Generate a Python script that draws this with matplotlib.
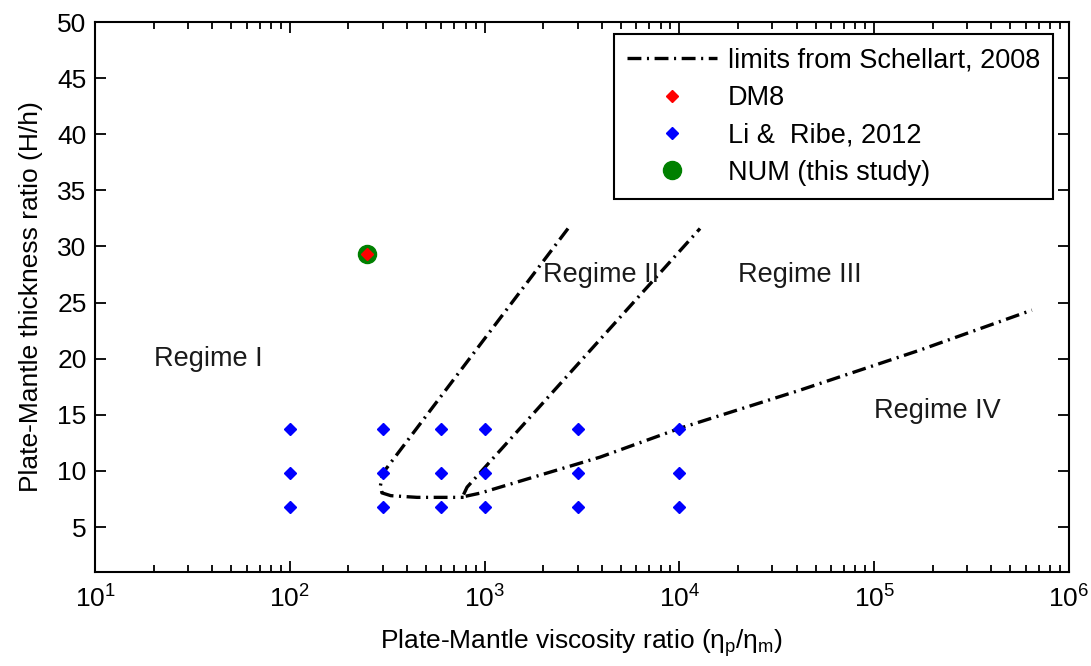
import numpy as np
import matplotlib
matplotlib.use("Agg")
import matplotlib.pyplot as plt

# ---------------- data ----------------
# Schellart (2008) regime limits (viscosity ratio, thickness ratio)
limA_x = [2680, 300, 292, 297, 330, 450, 780]
limA_y = [31.6, 9.8, 8.7, 8.05, 7.8, 7.65, 7.65]
limB_x = [780, 813, 12760]
limB_y = [7.9, 8.56, 31.6]
limC_x = [800, 946, 3910, 10070, 41600, 171800, 645000]
limC_y = [7.75, 8.02, 11.23, 13.81, 17.2, 20.77, 24.33]

# Li & Ribe 2012 grid
li_visc = [100, 300, 600, 1000, 3000, 10000]
li_thick = [6.8, 9.8, 13.75]

# DM8 / NUM
dm8_x = [250]
dm8_y = [29.3]

regime_labels = ["Regime I", "Regime II", "Regime III", "Regime IV"]
regime_x = [20, 2000, 20000, 100000]
regime_y = [20, 27.5, 27.5, 15.3]

# ---------------- style ----------------
plt.rcParams['font.family'] = ['Liberation Sans', 'DejaVu Sans']
plt.rcParams['mathtext.fontset'] = 'custom'
plt.rcParams['mathtext.rm'] = 'Liberation Sans'
plt.rcParams['mathtext.it'] = 'Liberation Sans'
plt.rcParams['mathtext.default'] = 'regular'
plt.rcParams['lines.scale_dashes'] = False
FS = 19
FS2 = 19.5

fig = plt.figure(figsize=(10.91, 6.66), dpi=100)
ax = fig.add_axes([95/1091, (666-572)/666, 974/1091, 550/666])

dash = (10, 4, 1.5, 4)
lA, = ax.plot(limA_x, limA_y, color='black', lw=2.4, dashes=dash,
              label='limits from Schellart, 2008')
ax.plot(limB_x, limB_y, color='black', lw=2.4, dashes=dash)
ax.plot(limC_x, limC_y, color='black', lw=2.4, dashes=dash)

ax.plot(dm8_x, dm8_y, 'o', color='green', ms=13, mec='green', zorder=3)
hd, = ax.plot(dm8_x, dm8_y, 'D', color='red', ms=6, mec='red', zorder=4,
              label='DM8')

gx, gy = np.meshgrid(li_visc, li_thick)
hl, = ax.plot(gx.ravel(), gy.ravel(), 'D', color='blue', ms=6.5, mec='blue',
              ls='none', label='Li &  Ribe, 2012')

hn = matplotlib.lines.Line2D([], [], marker='o', color='green', ms=13,
                             ls='none', label='NUM (this study)')

for t, x, y in zip(regime_labels, regime_x, regime_y):
    ax.text(x, y, t, fontsize=FS2, va='center', ha='left', color='#1a1a1a')

ax.set_xscale('log')
ax.set_xlim(10, 1e6)
ax.set_ylim(1, 50)
ax.set_yticks(np.arange(5, 51, 5))
ax.tick_params(which='both', direction='in', top=True, right=True,
               labelsize=FS, width=1.3)
ax.tick_params(which='major', length=8, pad=10)
ax.tick_params(which='minor', length=5)
ax.tick_params(axis='y', pad=6)
for s in ax.spines.values():
    s.set_linewidth(1.5)

ax.set_xlabel(r'Plate-Mantle viscosity ratio ($\eta_p/\eta_m$)', fontsize=FS,
              labelpad=10)
ax.set_ylabel('Plate-Mantle thickness ratio (H/h)', fontsize=FS, labelpad=10)

leg = ax.legend([lA, hd, hl, hn],
                ['limits from Schellart, 2008', 'DM8', 'Li &  Ribe, 2012',
                 'NUM (this study)'],
                loc='upper right', bbox_to_anchor=(0.984, 0.978),
                borderaxespad=0,
                fontsize=FS2, fancybox=False, framealpha=1, edgecolor='black',
                handlelength=3.3, labelspacing=0.42, borderpad=0.5,
                handletextpad=0.4)
leg.get_frame().set_linewidth(1.5)

fig.savefig('out.png', dpi=100)
